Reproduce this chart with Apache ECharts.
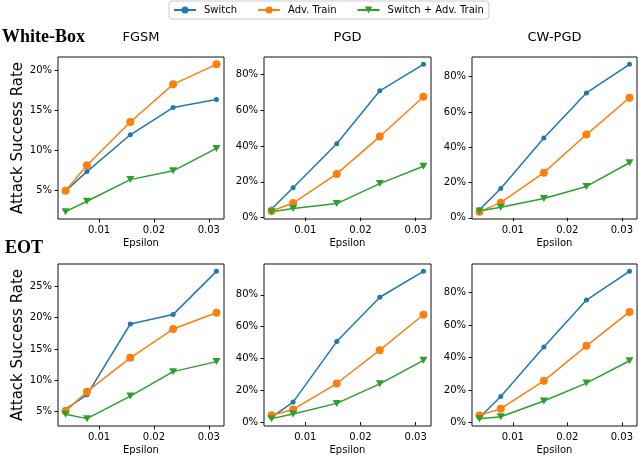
<!DOCTYPE html>
<html>
<head>
<meta charset="utf-8">
<script src="https://cdn.jsdelivr.net/npm/echarts@6.0.0/dist/echarts.min.js"></script>
<style>
	html, body { margin: 0; padding: 0; background: #fff; }
	#chart { width: 638px; height: 458px; }
</style>
</head>
<body>
<div id="chart"></div>
<script>
	'use strict';

	var seriesNames = [ 'Switch', 'Adv. Train', 'Switch + Adv. Train' ];
	var rowNames = [ 'White-Box', 'EOT' ];
	var attackNames = [ 'FGSM', 'PGD', 'CW-PGD' ];

	// epsilon values (x)
	var eps = [ 0.0039, 0.0078, 0.0157, 0.0235, 0.0314 ];
	var xTicks = [ 0.01, 0.02, 0.03 ];

	// tick labels, in %
	var yTicksFgsmWb = [ 5, 10, 15, 20 ];
	var yTicksFgsmEot = [ 5, 10, 15, 20, 25 ];
	var yTicksPct = [ 0, 20, 40, 60, 80 ];

	// white-box, attack success rate in %
	var wbFgsmSwitch = [ 4.9, 7.3, 11.9, 15.3, 16.3 ];
	var wbFgsmAdv = [ 4.9, 8.1, 13.5, 18.2, 20.7 ];
	var wbFgsmBoth = [ 2.3, 3.6, 6.3, 7.4, 10.2 ];
	var wbPgdSwitch = [ 4.8, 16.7, 41.3, 70.9, 85.7 ];
	var wbPgdAdv = [ 3.7, 8.1, 24.4, 45.3, 67.6 ];
	var wbPgdBoth = [ 3.3, 5.0, 7.8, 19.0, 28.7 ];
	var wbCwSwitch = [ 4.6, 16.6, 45.2, 70.8, 87.0 ];
	var wbCwAdv = [ 3.5, 8.6, 25.6, 47.2, 68.1 ];
	var wbCwBoth = [ 3.9, 6.0, 11.0, 17.8, 31.2 ];

	// EOT
	var eotFgsmSwitch = [ 5.4, 7.7, 19.0, 20.5, 27.4 ];
	var eotFgsmAdv = [ 5.1, 8.2, 13.6, 18.2, 20.8 ];
	var eotFgsmBoth = [ 4.6, 3.9, 7.5, 11.4, 13.0 ];
	var eotPgdSwitch = [ 3.1, 12.5, 50.6, 78.5, 94.8 ];
	var eotPgdAdv = [ 4.2, 7.9, 24.2, 45.2, 67.5 ];
	var eotPgdBoth = [ 2.1, 5.0, 11.7, 24.0, 38.8 ];
	var eotCwSwitch = [ 3.0, 15.9, 46.4, 75.4, 93.1 ];
	var eotCwAdv = [ 4.3, 8.4, 25.6, 47.2, 68.1 ];
	var eotCwBoth = [ 2.3, 3.5, 13.2, 24.2, 38.0 ];

	var panels = [
		{ row: 0, col: 0, data: [ wbFgsmSwitch, wbFgsmAdv, wbFgsmBoth ], ticks: yTicksFgsmWb },
		{ row: 0, col: 1, data: [ wbPgdSwitch, wbPgdAdv, wbPgdBoth ], ticks: yTicksPct },
		{ row: 0, col: 2, data: [ wbCwSwitch, wbCwAdv, wbCwBoth ], ticks: yTicksPct },
		{ row: 1, col: 0, data: [ eotFgsmSwitch, eotFgsmAdv, eotFgsmBoth ], ticks: yTicksFgsmEot },
		{ row: 1, col: 1, data: [ eotPgdSwitch, eotPgdAdv, eotPgdBoth ], ticks: yTicksPct },
		{ row: 1, col: 2, data: [ eotCwSwitch, eotCwAdv, eotCwBoth ], ticks: yTicksPct }
	];

	var colLeft = [ 58, 264, 472 ];
	var colWidth = [ 166, 167, 165 ];
	var rowTop = [ 57, 264 ];
	var rowHeight = 162;

	var colors = [ '#1f77b4', '#ff7f0e', '#2ca02c' ];
	var symbols = [ 'circle', 'circle', 'triangle' ];
	var symbolSizes = [ 5, 8, [ 8, 7 ] ];
	var font = 'DejaVu Sans';

	// matplotlib style autoscale, 5% margin
	function padRange( arrs ) {
		var all = [].concat.apply( [], arrs );
		var lo = Math.min.apply( null, all ), hi = Math.max.apply( null, all );
		var m = ( hi - lo ) * 0.05;
		return [ lo - m, hi + m ];
	}

	var xRange = padRange( [ eps ] );
	var grids = [], xAxes = [], yAxes = [], series = [];

	panels.forEach( function( p, i ) {
		var yr = padRange( p.data );
		grids.push( {
			left: colLeft[ p.col ],
			top: rowTop[ p.row ],
			width: colWidth[ p.col ],
			height: rowHeight,
			show: true,
			borderColor: '#111',
			borderWidth: 1,
			outerBoundsMode: 'none'
		} );
		xAxes.push( {
			type: 'value',
			gridIndex: i,
			min: xRange[ 0 ],
			max: xRange[ 1 ],
			name: 'Epsilon',
			nameLocation: 'middle',
			nameGap: 19,
			nameTextStyle: { fontFamily: font, fontSize: 10, color: '#000' },
			axisLine: { show: false },
			splitLine: { show: false },
			axisTick: { show: true, length: 3.5, customValues: xTicks, lineStyle: { color: '#111', width: 1 } },
			axisLabel: {
				customValues: xTicks,
				margin: 6,
				fontFamily: font,
				fontSize: 10,
				color: '#000',
				formatter: function( v ) { return v.toFixed( 2 ); }
			}
		} );
		yAxes.push( {
			type: 'value',
			gridIndex: i,
			min: yr[ 0 ],
			max: yr[ 1 ],
			name: p.col === 0 ? 'Attack Success Rate' : '',
			nameLocation: 'middle',
			nameRotate: 90,
			nameGap: 30,
			nameTextStyle: { fontFamily: font, fontSize: 15, color: '#000' },
			axisLine: { show: false },
			splitLine: { show: false },
			axisTick: { show: true, length: 3.5, customValues: p.ticks, lineStyle: { color: '#111', width: 1 } },
			axisLabel: {
				customValues: p.ticks,
				margin: 6,
				fontFamily: font,
				fontSize: 10,
				color: '#000',
				formatter: function( v ) { return v + '%'; }
			}
		} );
		p.data.forEach( function( vals, k ) {
			series.push( {
				name: seriesNames[ k ],
				type: 'line',
				xAxisIndex: i,
				yAxisIndex: i,
				data: eps.map( function( x, j ) { return [ x, vals[ j ] ]; } ),
				symbol: symbols[ k ],
				symbolSize: symbolSizes[ k ],
				symbolRotate: k === 2 ? 180 : 0,
				showAllSymbol: true,
				clip: false,
				color: colors[ k ],
				lineStyle: { width: 1.5, color: colors[ k ] },
				itemStyle: { color: colors[ k ] },
				emphasis: { disabled: true },
				animation: false
			} );
		} );
	} );

	var graphics = [];
	rowNames.forEach( function( name, r ) {
		graphics.push( {
			type: 'text',
			x: r === 0 ? 2 : 5,
			y: r === 0 ? 37 : 248,
			style: {
				text: name,
				font: 'bold 18px "Liberation Serif"',
				fill: '#000',
				textAlign: 'left',
				textVerticalAlign: 'middle'
			}
		} );
	} );
	attackNames.forEach( function( name, c ) {
		graphics.push( {
			type: 'text',
			x: colLeft[ c ] + colWidth[ c ] / 2,
			y: 38,
			style: {
				text: name,
				font: '13px "DejaVu Sans"',
				fill: '#000',
				textAlign: 'center',
				textVerticalAlign: 'middle'
			}
		} );
	} );

	var chart = echarts.init( document.getElementById( 'chart' ), null, { renderer: 'canvas' } );
	chart.setOption( {
		animation: false,
		backgroundColor: '#fff',
		legend: {
			data: seriesNames,
			left: 169,
			top: 1,
			padding: [ 4, 5, 4, 4 ],
			itemGap: 20,
			itemWidth: 22,
			itemHeight: 9,
			borderColor: '#ccc',
			borderWidth: 1,
			borderRadius: 3,
			textStyle: { fontFamily: font, fontSize: 10, color: '#000', padding: [ 0, 0, 0, 3 ] }
		},
		grid: grids,
		xAxis: xAxes,
		yAxis: yAxes,
		series: series,
		graphic: graphics
	} );
</script>
</body>
</html>
